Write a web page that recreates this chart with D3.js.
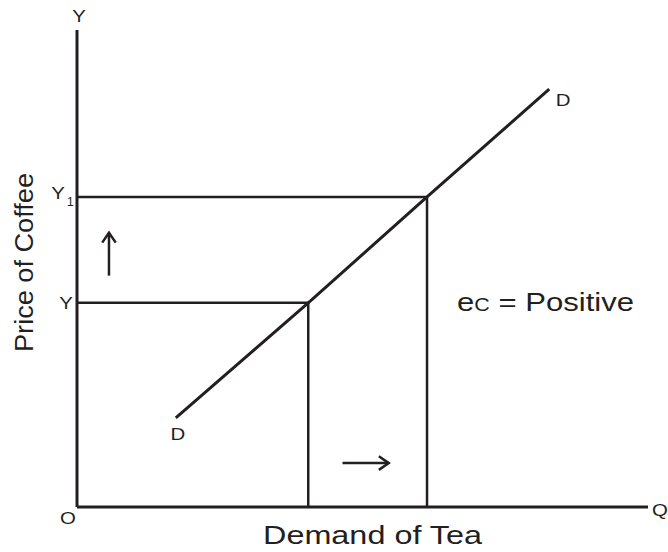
<!DOCTYPE html>
<html>
<head>
<meta charset="utf-8">
<script src="https://cdn.jsdelivr.net/npm/d3@7"></script>
<style>
  body { margin: 0; background: #fff; }
  text { font-family: "Liberation Sans", Arial, sans-serif; fill: #231f20; }
</style>
</head>
<body>
<svg id="chart" width="668" height="552"></svg>
<script>
// Demand curve for tea against price of coffee (cross elasticity, positive)
var demandCurve = [[17.3, 18.7], [40.5, 42.8], [61.3, 65.0], [82.7, 87.6]];
var quantities = [40.5, 61.3];   // Q on the x axis
var prices = [42.8, 65.0];       // Y and Y1
var priceLabels = ['Y', 'Y1'];
var upArrow = [[5.6, 48.5], [5.6, 57.5]];
var rightArrow = [[46.5, 9.2], [54.6, 9.2]];

var width = 668,
    height = 552,
    margin = {top: 30, right: 20, bottom: 45, left: 77},
    ink = '#231f20';

var svg = d3.select('#chart');

// Scales
var x = d3.scaleLinear().domain([0, 100]).range([margin.left, width - margin.right]);
var y = d3.scaleLinear().domain([0, 100]).range([height - margin.bottom, margin.top]);

// Small wide letter, centred on (cx, cy baseline)
function letter(cx, cy, txt) {
    return svg.append('text')
        .attr('transform', 'translate(' + cx + ',' + cy + ') scale(1.2,1)')
        .attr('text-anchor', 'middle')
        .style('font-size', '17px')
        .text(txt);
}

// Axes (plain lines, no ticks)
svg.append('line')
    .attr('x1', x(0)).attr('x2', x(0))
    .attr('y1', y(0)).attr('y2', y(100))
    .attr('stroke', ink).attr('stroke-width', 3);
svg.append('line')
    .attr('x1', x(0)).attr('x2', x(100))
    .attr('y1', y(0)).attr('y2', y(0))
    .attr('stroke', ink).attr('stroke-width', 3);

// Axis end letters
letter(x(0) + 2, y(100) - 8, 'Y');
letter(x(100) + 12, y(0) + 9, 'Q');
letter(x(0) - 9, y(0) + 17, 'O');

// Guide lines from Y axis to curve and down to the x axis
prices.forEach(function(p, i) {
    svg.append('line')
        .attr('x1', x(0)).attr('x2', x(quantities[i]))
        .attr('y1', y(p)).attr('y2', y(p))
        .attr('stroke', ink).attr('stroke-width', 2.5);
    svg.append('line')
        .attr('x1', x(quantities[i])).attr('x2', x(quantities[i]))
        .attr('y1', y(p)).attr('y2', y(0))
        .attr('stroke', ink).attr('stroke-width', 2.5);
});

// Price labels Y, Y1
priceLabels.forEach(function(lbl, i) {
    if (lbl === 'Y1') {
        letter(x(0) - 19, y(prices[i]) + 2, 'Y');
        svg.append('text')
            .attr('x', x(0) - 10).attr('y', y(prices[i]) + 9)
            .style('font-size', '12px').text('1');
    } else {
        letter(x(0) - 11, y(prices[i]) + 6, lbl);
    }
});

// Demand curve
var line = d3.line()
    .x(function(d) { return x(d[0]); })
    .y(function(d) { return y(d[1]); });

svg.append('path')
    .datum(demandCurve)
    .attr('d', line)
    .attr('fill', 'none')
    .attr('stroke', ink)
    .attr('stroke-width', 3);

var first = demandCurve[0], last = demandCurve[demandCurve.length - 1];
letter(x(first[0]) + 2, y(first[1]) + 22, 'D');
letter(x(last[0]) + 14, y(last[1]) + 17, 'D');

// Arrows (open heads)
function arrow(pts) {
    var x1 = x(pts[0][0]), y1 = y(pts[0][1]), x2 = x(pts[1][0]), y2 = y(pts[1][1]);
    var ang = Math.atan2(y2 - y1, x2 - x1), h = 12, spread = 0.6;
    svg.append('line')
        .attr('x1', x1).attr('y1', y1).attr('x2', x2).attr('y2', y2)
        .attr('stroke', ink).attr('stroke-width', 2.5);
    var head = d3.path();
    head.moveTo(x2 - h * Math.cos(ang - spread), y2 - h * Math.sin(ang - spread));
    head.lineTo(x2, y2);
    head.lineTo(x2 - h * Math.cos(ang + spread), y2 - h * Math.sin(ang + spread));
    svg.append('path').attr('d', head.toString())
        .attr('fill', 'none').attr('stroke', ink).attr('stroke-width', 2.5);
}
arrow(upArrow);
arrow(rightArrow);

// Elasticity note
var note = svg.append('text')
    .attr('x', 457).attr('y', 311)
    .style('font-size', '26px');
note.append('tspan').text('e');
note.append('tspan').style('font-size', '18px').text('C');
note.append('tspan').text(' = Positive');
note.attr('textLength', 177).attr('lengthAdjust', 'spacingAndGlyphs');

// Axis titles
svg.append('text')
    .attr('x', 263).attr('y', 544)
    .style('font-size', '26px')
    .attr('textLength', 219).attr('lengthAdjust', 'spacingAndGlyphs')
    .text('Demand of Tea');

svg.append('text')
    .attr('transform', 'translate(33,352) rotate(-90)')
    .style('font-size', '26px')
    .attr('textLength', 179).attr('lengthAdjust', 'spacingAndGlyphs')
    .text('Price of Coffee');
</script>
</body>
</html>
